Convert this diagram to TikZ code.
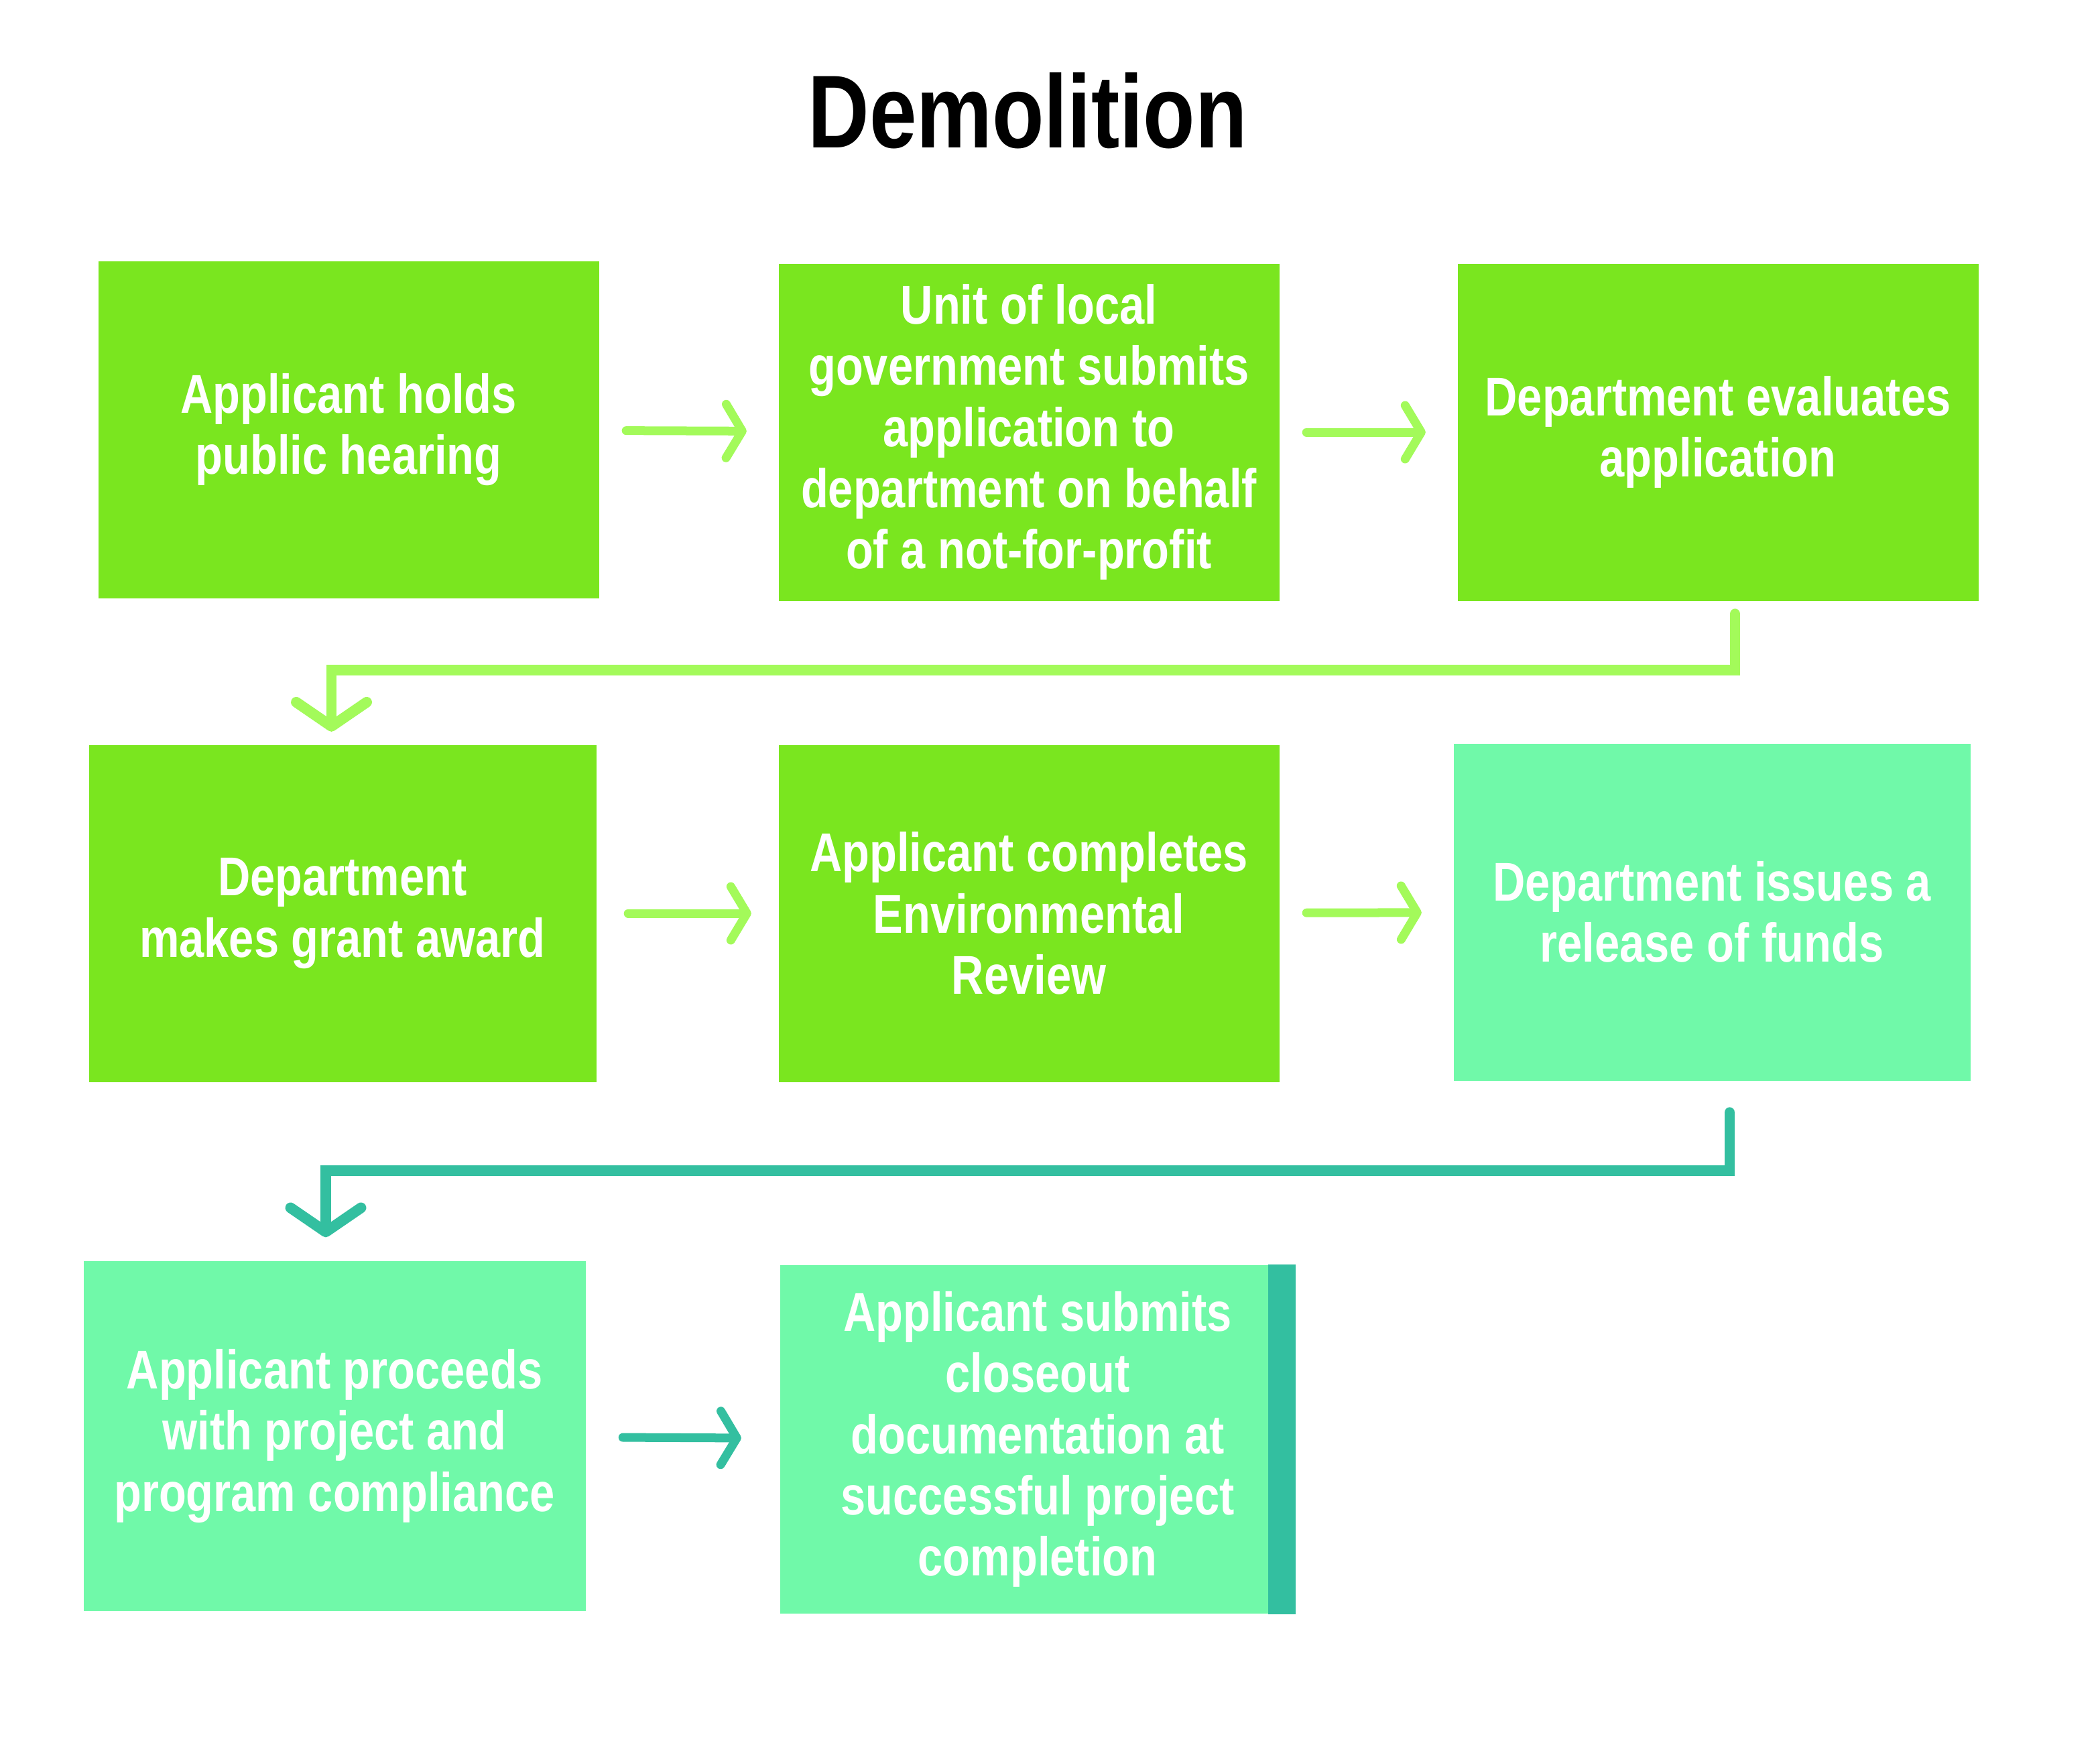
\documentclass[tikz,border=0pt]{standalone}
\usepackage{fontspec}
\setmainfont{Liberation Sans}[FakeStretch=0.82]
\usepackage{tikz}
\usetikzlibrary{arrows.meta,positioning,calc}

\definecolor{grassgreen}{RGB}{122,230,31}
\definecolor{mintgreen}{RGB}{112,249,169}
\definecolor{limearrow}{RGB}{163,250,90}
\definecolor{tealarrow}{RGB}{51,191,160}

\begin{document}
\begin{tikzpicture}[
    box/.style={fill=grassgreen, minimum width=7.47cm, minimum height=5.03cm, align=center, text=white, font=\fontsize{23.2}{26}\selectfont\bfseries, inner sep=0pt},
    mintbox/.style={box, fill=mintgreen},
    arr/.style={-{Straight Barb[length=2.4mm, width=8mm, round]}, line width=3.7pt, line cap=round, shorten <=0.4cm, shorten >=0.47cm},
    elbow/.style={-{Straight Barb[length=3.6mm, width=10.5mm, round]}, line width=4.5pt, line cap=round},
]
\fill[white] (0,0) rectangle (31.33,-26.18);
\useasboundingbox (0,0) rectangle (31.33,-26.18);

\node[font=\fontsize{44}{50}\selectfont\bfseries] (title) at (15.33,-1.65) {Demolition};

\node[box] (hear) at (5.2,-6.41) {Applicant holds\\public hearing};
\node[box] (submit) at (15.35,-6.45) {Unit of local\\government submits\\application to\\department on behalf\\of a not-for-profit};
\node[box, minimum width=7.77cm] (eval) at (25.63,-6.45) {Department evaluates\\application};

\node[box, minimum width=7.57cm] (award) at (5.11,-13.63) {Department\\makes grant award};
\node[box] (review) at (15.35,-13.63) {Applicant completes\\Environmental\\Review};
\node[mintbox, minimum width=7.71cm] (release) at (25.54,-13.61) {Department issues a\\release of funds};

\node[mintbox, minimum width=7.49cm, minimum height=5.22cm] (proceed) at (4.99,-21.43) {Applicant proceeds\\with project and\\program compliance};
\node[mintbox, minimum width=7.69cm, minimum height=5.2cm] (closeout) at (15.48,-21.48) {Applicant submits\\closeout\\documentation at\\successful project\\completion};
\fill[tealarrow] ([xshift=-0.41cm]closeout.north east) rectangle (closeout.south east);

\draw[arr, limearrow] (hear) -- (submit);
\draw[arr, limearrow] (submit) -- (eval);
\draw[elbow, limearrow] ([xshift=0.255cm, yshift=-0.19cm]eval.south) -- ++(0,-0.84) -| ([xshift=-0.165cm, yshift=0.19cm]award.north);
\draw[arr, limearrow, shorten <=0.47cm, shorten >=0.4cm] (award) -- (review);
\draw[arr, limearrow] (review) -- (release);
\draw[elbow, tealarrow] ([xshift=0.265cm, yshift=-0.47cm]release.south) -- ++(0,-0.87) -| ([xshift=-0.13cm, yshift=0.35cm]proceed.north);
\draw[arr, tealarrow, shorten <=0.55cm, shorten >=0.57cm] (proceed) -- (closeout);
\end{tikzpicture}
\end{document}
